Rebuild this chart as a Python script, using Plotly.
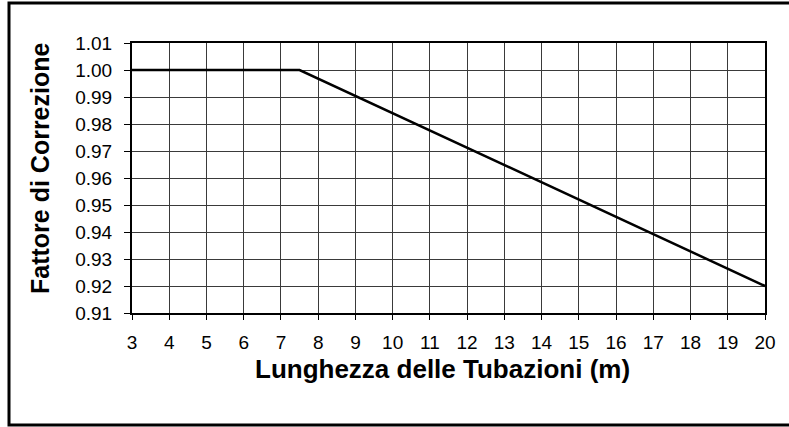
import plotly.graph_objects as go

lunghezza = [3, 7.5, 20]
fattore = [1.00, 1.00, 0.92]
x_ticks = list(range(3, 21))
y_ticks = [0.91, 0.92, 0.93, 0.94, 0.95, 0.96, 0.97, 0.98, 0.99, 1.00, 1.01]
x_title = "Lunghezza delle Tubazioni (m)"
y_title = "Fattore di Correzione"

W, H = 789, 427
L, R, T, B = 132, 24, 43, 114
pw, ph = W - L - R, H - T - B

fig = go.Figure()
fig.add_trace(go.Scatter(x=lunghezza, y=fattore, mode="lines",
                         line=dict(color="black", width=2.5), showlegend=False))

font_fam = "Liberation Sans, Arial, sans-serif"
fig.update_layout(
    width=W, height=H,
    margin=dict(l=L, r=R, t=T, b=B),
    paper_bgcolor="white", plot_bgcolor="white",
    font=dict(family=font_fam, color="black"),
    xaxis=dict(range=[3, 20], tickvals=x_ticks, ticktext=[str(v) for v in x_ticks],
               showgrid=True, gridcolor="#3a3a3a", gridwidth=1,
               showline=True, linecolor="black", linewidth=2, mirror=True,
               ticks="outside", ticklen=5, tickcolor="black", tickwidth=1,
               tickfont=dict(size=19), zeroline=False, ticklabelstandoff=6),
    yaxis=dict(range=[0.91, 1.01], tickvals=y_ticks, ticktext=[f"{v:.2f}" for v in y_ticks],
               showgrid=True, gridcolor="#3a3a3a", gridwidth=1,
               showline=True, linecolor="black", linewidth=2, mirror=True,
               ticks="outside", ticklen=6, tickcolor="black", tickwidth=1,
               tickfont=dict(size=19), zeroline=False, ticklabelstandoff=8),
)

fig.add_annotation(text=f"<b>{x_title}</b>", xref="paper", yref="paper",
                   x=(442 - L) / pw, y=(H - B - 369) / ph, showarrow=False,
                   xanchor="center", yanchor="middle", font=dict(size=26))
fig.add_annotation(text=f"<b>{y_title}</b>", xref="paper", yref="paper",
                   x=(40 - L) / pw, y=(H - B - 168) / ph, showarrow=False,
                   textangle=-90, xanchor="center", yanchor="middle", font=dict(size=25))

fig.add_shape(type="rect", xref="paper", yref="paper",
              x0=(9 - L) / pw, x1=(800 - L) / pw,
              y0=(H - B - 425) / ph, y1=(H - B - 3) / ph,
              line=dict(color="black", width=3), layer="below")

fig.write_html("out.html", config={"displayModeBar": False},
               post_script="document.body.style.margin='0';document.body.style.overflow='hidden';")
